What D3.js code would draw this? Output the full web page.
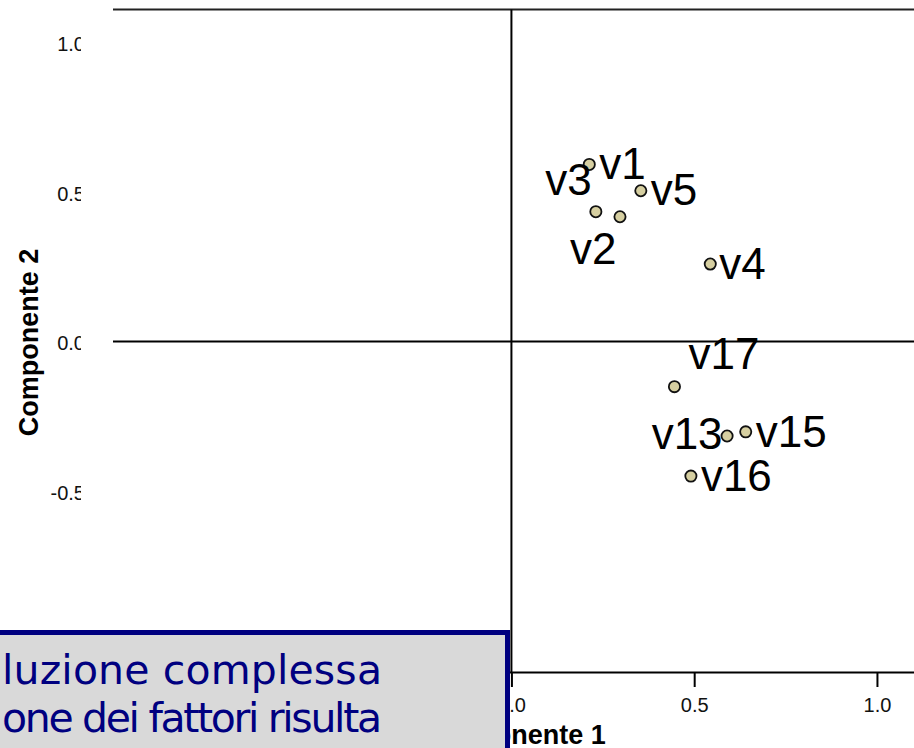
<!DOCTYPE html>
<html>
<head>
<meta charset="utf-8">
<script src="https://cdn.jsdelivr.net/npm/d3@7"></script>
<style>
  body { margin: 0; background: #fff; }
  svg { display: block; }
  .tick line { stroke: #000; stroke-width: 2; }
  .axis text { font-family: "Liberation Sans", Arial, sans-serif; font-size: 20px; fill: #111; }
</style>
</head>
<body>
<svg id="plot"></svg>
<script>
var w = 914;
var h = 748;

// component loadings
var varNames = ["v1", "v5", "v3", "v2", "v4", "v17", "v13", "v15", "v16"];
var comp1 = [0.213, 0.354, 0.231, 0.297, 0.544, 0.446, 0.590, 0.641, 0.491];
var comp2 = [0.592, 0.504, 0.434, 0.417, 0.259, -0.151, -0.316, -0.302, -0.450];
// only the ticks not hidden behind the text box
var xTickVals = [0.0, 0.5, 1.0];
var yTickVals = [-0.5, 0.0, 0.5, 1.0];
var xTitle = "Componente 1";
var yTitle = "Componente 2";
var boxLines = ["luzione complessa", "one dei fattori risulta"];

// where each label sits relative to its marker: [dx, dy, anchor]
var labelPlace = {
  v1: [10, 14.5, "start"], v5: [10, 14.5, "start"], v3: [-4, -17, "end"],
  v2: [-3.5, 47.5, "end"], v4: [9, 14.5, "start"], v17: [14, -17.5, "start"],
  v13: [-4.5, 12.5, "end"], v15: [10, 15.5, "start"], v16: [10, 14.5, "start"]
};

var points = varNames.map(function(d, i) { return {name: d, c1: comp1[i], c2: comp2[i]}; });
var fmt = function(d) { return d.toFixed(1); };

var x = d3.scaleLinear().domain([-1.09, 1.1]).range([113, 913.5]);
var y = d3.scaleLinear().domain([-1.105, 1.11]).range([672, 9.5]);

var svg = d3.select("#plot").attr("width", w).attr("height", h);
svg.append("rect").attr("width", w).attr("height", h).attr("fill", "#fff");

// frame top and the two zero lines
svg.append("line").attr("x1", x(-1.09)).attr("x2", w).attr("y1", y(1.11)).attr("y2", y(1.11))
  .attr("stroke", "#222").attr("stroke-width", 2);
svg.append("line").attr("x1", x(-1.09)).attr("x2", w).attr("y1", y(0)).attr("y2", y(0))
  .attr("stroke", "#000").attr("stroke-width", 2);
svg.append("line").attr("x1", x(0)).attr("x2", x(0)).attr("y1", y(1.11)).attr("y2", y(-1.105))
  .attr("stroke", "#000").attr("stroke-width", 2);

// bottom axis
var xAxis = d3.axisBottom(x).tickValues(xTickVals).tickSize(15).tickSizeOuter(0).tickFormat(fmt);
var gX = svg.append("g").attr("class", "axis").attr("transform", "translate(0," + y(-1.105) + ")").call(xAxis);
gX.select(".domain").attr("stroke", "#000").attr("stroke-width", 2);
gX.selectAll("text").attr("y", 39.5).attr("dy", null);

// left tick labels, clipped like the source
svg.append("clipPath").attr("id", "yclip").append("rect").attr("x", 0).attr("y", 0).attr("width", 81).attr("height", h);
var yAxis = d3.axisLeft(y).tickValues(yTickVals).tickSize(0).tickPadding(0).tickFormat(fmt);
var gY = svg.append("g").attr("clip-path", "url(#yclip)")
  .append("g").attr("class", "axis").attr("transform", "translate(85,0)").call(yAxis);
gY.select(".domain").remove();
gY.selectAll("text").attr("dy", "0.41em");

// axis titles
svg.append("text").attr("x", 512).attr("y", 744).attr("text-anchor", "middle")
  .style("font-family", "Liberation Sans, Arial, sans-serif").style("font-weight", "bold").style("font-size", "27px")
  .text(xTitle);
svg.append("text").attr("transform", "translate(38," + 342.5 + ") rotate(-90)").attr("text-anchor", "middle")
  .style("font-family", "Liberation Sans, Arial, sans-serif").style("font-weight", "bold").style("font-size", "27px")
  .text(yTitle);

// markers
svg.selectAll("circle.pt").data(points).enter().append("circle").attr("class", "pt")
  .attr("cx", function(d) { return x(d.c1); })
  .attr("cy", function(d) { return y(d.c2); })
  .attr("r", 5.6)
  .attr("fill", "#d6cfa1").attr("stroke", "#111").attr("stroke-width", 1.8);

svg.selectAll("text.lbl").data(points).enter().append("text").attr("class", "lbl")
  .attr("x", function(d) { return x(d.c1) + labelPlace[d.name][0]; })
  .attr("y", function(d) { return y(d.c2) + labelPlace[d.name][1]; })
  .attr("text-anchor", function(d) { return labelPlace[d.name][2]; })
  .style("font-family", "Liberation Sans, Arial, sans-serif").style("font-size", "44px").attr("fill", "#000")
  .text(function(d) { return d.name; });

// overlapping slide text box
svg.append("rect").attr("x", -10).attr("y", 632.5).attr("width", 517.5).attr("height", 140)
  .attr("fill", "#d9d9d9").attr("stroke", "#000080").attr("stroke-width", 5);
svg.selectAll("text.box").data(boxLines).enter().append("text").attr("class", "box")
  .attr("x", 2)
  .attr("y", function(d, i) { return 684 + i * 48; })
  .attr("textLength", 380).attr("lengthAdjust", "spacing")
  .style("font-family", "DejaVu Sans, Verdana, sans-serif").style("font-size", "41px").attr("fill", "#000080")
  .text(function(d) { return d; });
</script>
</body>
</html>
